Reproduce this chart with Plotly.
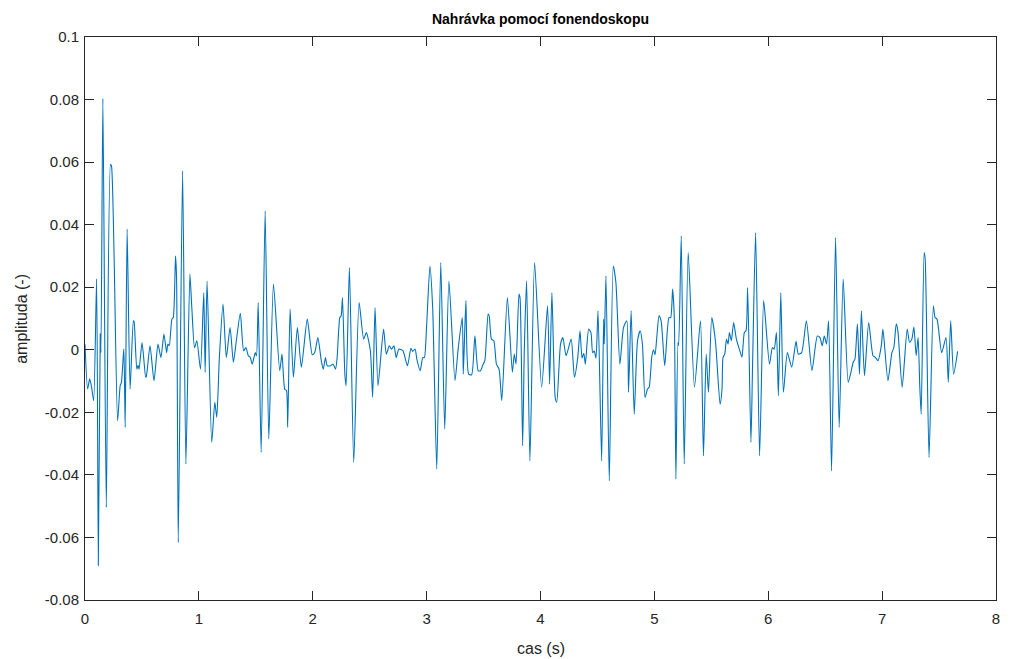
import plotly.graph_objects as go

cas_s = [
    0.000, 0.023, 0.041, 0.058, 0.076, 0.102, 0.117, 0.134, 0.140, 0.157, 0.187, 0.224, 0.233, 0.286, 0.309, 0.320,
    0.341, 0.353, 0.370, 0.396, 0.425, 0.431, 0.455, 0.466, 0.475, 0.501, 0.533, 0.539, 0.571, 0.606, 0.641, 0.667,
    0.693, 0.717, 0.728, 0.740, 0.763, 0.775, 0.795, 0.804, 0.819, 0.857, 0.886, 0.921, 0.938, 0.962, 0.982, 1.014,
    1.043, 1.055, 1.072, 1.113, 1.140, 1.157, 1.180, 1.212, 1.241, 1.274, 1.303, 1.329, 1.364, 1.393,
    1.413, 1.434, 1.451, 1.469, 1.495, 1.506, 1.521, 1.547, 1.582, 1.614, 1.655, 1.710, 1.730, 1.754, 1.769, 1.780,
    1.801, 1.830, 1.865, 1.900, 1.952, 1.996, 2.017, 2.045, 2.075, 2.092,
    2.112, 2.127, 2.156, 2.179, 2.200, 2.214, 2.238, 2.249, 2.261, 2.282, 2.293, 2.322, 2.360, 2.407, 2.447, 2.471,
    2.506, 2.526, 2.547, 2.573, 2.622, 2.646, 2.672, 2.692, 2.713, 2.733, 2.756, 2.791,
    2.832, 2.862, 2.877, 2.899, 2.914, 2.943, 2.966, 2.980, 2.999, 3.029, 3.053, 3.089, 3.124, 3.159, 3.196, 3.249,
    3.278, 3.313, 3.322, 3.345, 3.369, 3.395, 3.424, 3.453, 3.474, 3.491,
    3.511, 3.540, 3.549, 3.569, 3.590, 3.613, 3.636, 3.660, 3.709, 3.753, 3.770, 3.785, 3.811, 3.820, 3.843, 3.858,
    3.878, 3.907, 3.948, 4.010, 4.062, 4.080, 4.100, 4.129, 4.143, 4.176, 4.196,
    4.225, 4.269, 4.298, 4.327, 4.347, 4.365, 4.380, 4.394, 4.423, 4.443, 4.458, 4.472, 4.487, 4.505, 4.537, 4.554,
    4.560, 4.575, 4.604, 4.639, 4.662, 4.697, 4.729, 4.758, 4.773, 4.796, 4.823, 4.852, 4.875, 4.895,
    4.918, 4.939, 4.954, 4.977, 4.992, 5.006, 5.021, 5.041, 5.059, 5.091, 5.128, 5.143, 5.160, 5.175, 5.189, 5.207,
    5.213, 5.236, 5.262, 5.297, 5.352, 5.405, 5.431, 5.455, 5.475, 5.504, 5.536, 5.577, 5.594,
    5.603, 5.618, 5.633, 5.647, 5.659, 5.676, 5.696, 5.720, 5.746, 5.769, 5.790, 5.805, 5.819, 5.848, 5.863, 5.889,
    5.924, 5.959, 5.973, 6.011, 6.037, 6.052, 6.072, 6.089, 6.110, 6.133, 6.168, 6.206, 6.244, 6.264, 6.293,
    6.335, 6.384, 6.431, 6.454, 6.474, 6.492, 6.512, 6.530, 6.556, 6.591, 6.623, 6.658, 6.702, 6.726, 6.746, 6.761,
    6.783, 6.801, 6.818, 6.845, 6.882, 6.920, 6.940, 6.964, 6.993,
    7.007, 7.051, 7.086, 7.103, 7.124, 7.138, 7.176, 7.220, 7.241, 7.261, 7.279, 7.299, 7.316, 7.331, 7.343, 7.369,
    7.378, 7.412, 7.450, 7.465, 7.482, 7.523, 7.561, 7.581, 7.602, 7.628, 7.663,
]

amplituda = [
    0.0018, -0.0125, -0.0093, -0.0120, -0.0163, 0.0227, -0.0690, 0.0051, -0.0009, 0.0803, -0.0504, 0.0593, 0.0587, -0.0227, -0.0115, -0.0104,
    0.0003, -0.0248, 0.0386, -0.0126, 0.0093, 0.0090, -0.0062, -0.0050, -0.0062, 0.0023, -0.0088, -0.0085, 0.0013, -0.0099, 0.0018, -0.0025,
    0.0050, -0.0009, 0.0018, 0.0013, 0.0098, 0.0103, 0.0300, 0.0231, -0.0616, 0.0572, -0.0365, 0.0242, 0.0135, 0.0007, 0.0029, -0.0062,
    0.0183, -0.0072, 0.0220, -0.0296, -0.0168, -0.0216, -0.0025, 0.0146, -0.0025, 0.0071, -0.0040, 0.0029, 0.0117, -0.0003,
    0.0007, -0.0019, -0.0024, -0.0046, -0.0009, -0.0019, 0.0151, -0.0328, 0.0444, -0.0285, 0.0210, -0.0067, -0.0014, -0.0126, -0.0130, -0.0248,
    0.0130, -0.0088, 0.0071, -0.0056, 0.0098, -0.0016, -0.0009, 0.0039, -0.0035, -0.0062,
    -0.0025, -0.0051, -0.0051, -0.0046, -0.0062, -0.0025, 0.0103, 0.0108, 0.0167, -0.0078, -0.0115, 0.0263, -0.0360, 0.0151, 0.0034, 0.0055,
    -0.0003, -0.0152, 0.0135, -0.0115, 0.0066, -0.0014, 0.0013, 0.0002, 0.0013, -0.0025, 0.0002, -0.0003,
    -0.0051, 0.0005, -0.0005, 0.0002, -0.0030, -0.0067, -0.0025, -0.0025, 0.0071, 0.0268, 0.0135, -0.0381, 0.0279, -0.0253, 0.0220, -0.0099,
    0.0007, 0.0103, -0.0078, 0.0157, -0.0078, -0.0080, 0.0045, -0.0067, -0.0067, -0.0051,
    -0.0035, 0.0114, 0.0109, 0.0034, 0.0029, -0.0046, -0.0062, -0.0163, 0.0167, -0.0072, -0.0014, -0.0046, 0.0178, 0.0167, -0.0307, 0.0002,
    0.0220, -0.0355, 0.0279, -0.0120, 0.0141, -0.0110, 0.0183, -0.0152, -0.0168, 0.0018, 0.0039,
    -0.0019, 0.0034, -0.0088, -0.0025, 0.0061, -0.0027, -0.0011, -0.0046, 0.0066, 0.0055, -0.0009, -0.0004, -0.0027, 0.0125, -0.0355, 0.0098,
    0.0018, 0.0236, -0.0419, 0.0268, 0.0215, -0.0046, 0.0071, 0.0093, -0.0136, 0.0125, -0.0206, 0.0029, 0.0061, 0.0018,
    -0.0152, -0.0126, -0.0120, -0.0024, 0.0000, -0.0016, 0.0039, 0.0109, 0.0093, -0.0051, 0.0103, 0.0103, 0.0194, 0.0103, -0.0413, 0.0023,
    0.0013, 0.0364, -0.0365, 0.0311, -0.0120, 0.0093, -0.0339, -0.0014, -0.0136, 0.0103, 0.0029, -0.0174, -0.0126,
    -0.0024, -0.0014, 0.0034, 0.0018, 0.0055, 0.0029, 0.0087, 0.0034, 0.0002, -0.0024, 0.0055, 0.0061, 0.0199, -0.0296, -0.0035, 0.0375,
    -0.0339, 0.0157, 0.0109, -0.0046, 0.0007, 0.0002, 0.0055, -0.0147, 0.0183, -0.0136, -0.0009, -0.0056, 0.0027, -0.0014, -0.0009,
    0.0093, -0.0067, 0.0044, 0.0039, 0.0013, 0.0044, 0.0018, 0.0093, -0.0387, 0.0359, -0.0248, 0.0226, -0.0104, -0.0072, -0.0040, -0.0030,
    0.0083, -0.0078, 0.0125, -0.0083, 0.0087, -0.0019, -0.0024, -0.0035, 0.0013,
    0.0066, -0.0099, -0.0009, 0.0007, 0.0083, 0.0061, -0.0120, 0.0066, 0.0024, 0.0034, 0.0073, -0.0019, 0.0039, -0.0120, -0.0206, 0.0311,
    0.0290, -0.0344, 0.0141, 0.0103, 0.0098, -0.0009, 0.0039, -0.0104, 0.0093, -0.0078, -0.0005,
]

x_ticks = [0, 1, 2, 3, 4, 5, 6, 7, 8]
y_ticks = [-0.08, -0.06, -0.04, -0.02, 0, 0.02, 0.04, 0.06, 0.08, 0.1]
y_tick_labels = ["-0.08", "-0.06", "-0.04", "-0.02", "0", "0.02", "0.04", "0.06", "0.08", "0.1"]

title_text = "Nahrávka pomocí fonendoskopu"
x_label = "cas (s)"
y_label = "amplituda (-)"

FONT = "Liberation Sans, Arial, sans-serif"
AX = "#262626"

fig = go.Figure()
fig.add_trace(go.Scatter(
    x=cas_s, y=amplituda, mode="lines",
    line=dict(color="#0072BD", width=1.1, shape="spline", smoothing=0.6),
    hoverinfo="x+y", showlegend=False,
))

axis_common = dict(
    showline=True, linecolor=AX, linewidth=1, mirror="ticks",
    ticks="inside", ticklen=9, tickwidth=1, tickcolor=AX,
    showgrid=False, zeroline=False,
    tickfont=dict(family=FONT, size=15, color=AX),
)

fig.update_xaxes(range=[0, 8], tickvals=x_ticks, ticktext=[str(v) for v in x_ticks],
                 ticklabelstandoff=5, **axis_common)
fig.update_yaxes(range=[-0.08, 0.1], tickvals=y_ticks, ticktext=y_tick_labels,
                 ticklabelstandoff=2, **axis_common)

fig.update_layout(
    width=1010, height=659,
    margin=dict(l=85, r=10, t=37, b=59),
    paper_bgcolor="white", plot_bgcolor="white",
    title=dict(text="<b>" + title_text + "</b>", x=0.5, xref="paper", y=1 - 19 / 659, yref="container",
               xanchor="center", yanchor="middle", font=dict(family=FONT, size=14, color="black")),
    annotations=[
        dict(text=x_label, xref="paper", yref="paper", x=0.5, y=-48 / 563, xanchor="center", yanchor="middle",
             showarrow=False, font=dict(family=FONT, size=16, color=AX)),
        dict(text=y_label, xref="paper", yref="paper", x=-64 / 915, y=0.5, xanchor="center", yanchor="middle",
             showarrow=False, textangle=-90, font=dict(family=FONT, size=16, color=AX)),
    ],
)

fig.write_html("out.html")
